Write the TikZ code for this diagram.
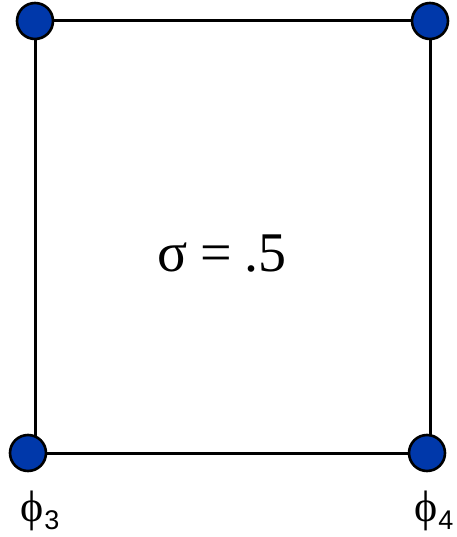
\documentclass[tikz,border=0pt]{standalone}
\usepackage{fontspec}
\setmainfont{Liberation Serif}
\newfontfamily\labsans{Liberation Sans}
\usetikzlibrary{backgrounds}
\definecolor{dotblue}{RGB}{0,56,170}
\tikzset{
  dot/.style={circle, draw=black, line width=2.6pt, fill=dotblue, minimum size=36pt, inner sep=0pt},
  edge/.style={line width=3pt},
  phlabel/.style={inner sep=0pt, anchor=base west, font=\fontsize{44}{48}\selectfont}
}
\newcommand{\phisub}[1]{ϕ\hspace{1pt}\raisebox{-8pt}{\labsans\fontsize{27}{30}\selectfont #1}}
\begin{document}
\begin{tikzpicture}[x=1pt,y=-1pt]
	\useasboundingbox (0,0) rectangle (456,537);
	\node[dot] (tl) at (35,21) {};
	\node[dot] (tr) at (430,21) {};
	\node[dot] (bl) at (28,453) {};
	\node[dot] (br) at (427,453) {};
	\begin{scope}[on background layer]
		\draw[edge] (tl.center) -- (tr.center);
		\draw[edge] (tr.center) -- (tr.center |- br.center);
		\draw[edge] (bl.center) -- (br.center);
		\draw[edge] (tl.center) -- (tl.center |- bl.center);
	\end{scope}
	\node[inner sep=0pt, anchor=base, font=\fontsize{56}{60}\selectfont] (sig) at (222,271) {σ\hspace{13pt}=\hspace{12pt}.5};
	\node[phlabel] (p3) at (20,521) {\phisub{3}};
	\node[phlabel] (p4) at (414,521) {\phisub{4}};
\end{tikzpicture}
\end{document}
